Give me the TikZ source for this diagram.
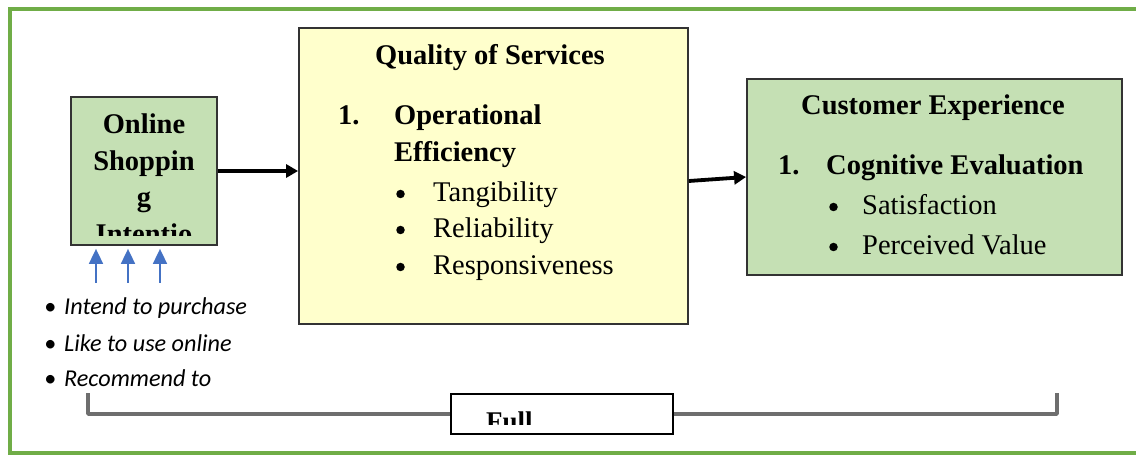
\documentclass[tikz,border=0pt]{standalone}
\usepackage{fontspec}
\setmainfont{Liberation Serif}
\newfontfamily\calib{Carlito}
\usetikzlibrary{arrows.meta}

\definecolor{framegreen}{RGB}{112,173,71}
\definecolor{boxgreen}{RGB}{197,224,180}
\definecolor{boxyellow}{RGB}{255,255,204}
\definecolor{arrowblue}{RGB}{68,114,196}
\definecolor{bracketgray}{RGB}{110,110,110}

\tikzset{
  panel/.style={draw=black!80, line width=1.8pt, rectangle, inner sep=0pt},
  bigfont/.style={font=\fontsize{28.5}{37}\selectfont\bfseries},
  plainfont/.style={font=\fontsize{28.5}{37}\selectfont},
  sidefont/.style={font=\fontsize{24.2}{30}\selectfont\calib\itshape},
  txt/.style={inner sep=0pt, anchor=base west},
  ctxt/.style={inner sep=0pt, anchor=base},
  dot/.style={circle, fill=black, inner sep=0pt, minimum size=8.5pt},
  flow/.style={line width=3.8pt, -{Triangle[length=12pt,width=13pt]}},
  feed/.style={draw=arrowblue, line width=1.8pt, -{Triangle[length=15pt,width=14pt]}, arrowblue},
  bracket/.style={draw=bracketgray, line width=3.4pt, line join=round},
  frame/.style={draw=framegreen, line width=3.4pt}
}

\begin{document}
\begin{tikzpicture}[x=1pt, y=-1pt]
  \useasboundingbox (0,0) rectangle (1136,457);
  \fill[white] (0,0) rectangle (1136,457);

  % outer frame, open on the right
  \draw[frame] (1150,9) -- (10,9) -- (10,453) -- (1150,453);

  % the three panels
  \node[panel, fill=boxgreen, minimum width=146pt, minimum height=148pt] (osi) at (144,171) {};
  \node[panel, fill=boxyellow, minimum width=389pt, minimum height=296pt] (qos) at (493.5,176) {};
  \node[panel, fill=boxgreen, minimum width=375pt, minimum height=196pt] (cx) at (934.5,177) {};

  % left panel text, cut off at the panel's lower edge
  \begin{scope}
    \clip (71,97) rectangle (217,236);
    \node[ctxt, bigfont] (osi1) at (144,134) {Online};
    \node[ctxt, bigfont] (osi2) at (144,171) {Shoppin};
    \node[ctxt, bigfont] (osi3) at (144,207) {g};
    \node[ctxt, bigfont] (osi4) at (144,244) {Intentio};
  \end{scope}

  % middle panel text
  \node[txt, bigfont] (qt) at (375,65) {Quality of Services};
  \node[txt, bigfont] (qn) at (338,125) {1.};
  \node[txt, bigfont] (qh1) at (394,125) {Operational};
  \node[txt, bigfont] (qh2) at (394,162) {Efficiency};
  \node[dot] (qb1) at (400.5,194) {};
  \node[txt, plainfont] (qi1) at (433,202) {Tangibility};
  \node[dot] (qb2) at (400.5,230) {};
  \node[txt, plainfont] (qi2) at (433,238) {Reliability};
  \node[dot] (qb3) at (400.5,267) {};
  \node[txt, plainfont] (qi3) at (433,275) {Responsiveness};

  % right panel text
  \node[txt, bigfont] (ct) at (801,115) {Customer Experience};
  \node[txt, bigfont] (cn) at (778,175) {1.};
  \node[txt, bigfont] (ch) at (826,175) {Cognitive Evaluation};
  \node[dot] (cb1) at (833.5,207) {};
  \node[txt, plainfont] (ci1) at (862,215) {Satisfaction};
  \node[dot] (cb2) at (833.5,247) {};
  \node[txt, plainfont] (ci2) at (862,255) {Perceived Value};

  % main flow
  \draw[flow] (osi.east) -- (osi.east -| qos.west);
  \draw[flow] ([yshift=-5pt]qos.east) -- (cx.west);

  % indicators feeding the intention panel
  \coordinate (f1) at (96,283);
  \coordinate (f2) at (128,283);
  \coordinate (f3) at (160,283);
  \draw[feed] (f1) -- ([yshift=-3pt]osi.south -| f1);
  \draw[feed] (f2) -- ([yshift=-3pt]osi.south -| f2);
  \draw[feed] (f3) -- ([yshift=-3pt]osi.south -| f3);

  \node[txt, sidefont] (lb1) at (44,315) {\textbullet};
  \node[txt, sidefont] (li1) at (64,315) {Intend to purchase};
  \node[txt, sidefont] (lb2) at (44,351) {\textbullet};
  \node[txt, sidefont] (li2) at (64,351) {Like to use online};
  \node[txt, sidefont] (lb3) at (44,386) {\textbullet};
  \node[txt, sidefont] (li3) at (64,386) {Recommend to};

  % bottom bracket with its label box
  \coordinate (bl) at (88,393);
  \coordinate (br) at (1057,393);
  \draw[bracket] (bl) -- (88,414) -- (1057,414) -- (br);
  \node[panel, draw=black, line width=1.6pt, fill=white, minimum width=222pt, minimum height=40pt] (full) at (562,414) {};
  \begin{scope}
    \clip (451,394) rectangle (673,424);
    \node[txt, font=\fontsize{27}{32}\selectfont\bfseries] (fullt) at (486,430) {Full};
  \end{scope}
\end{tikzpicture}
\end{document}
